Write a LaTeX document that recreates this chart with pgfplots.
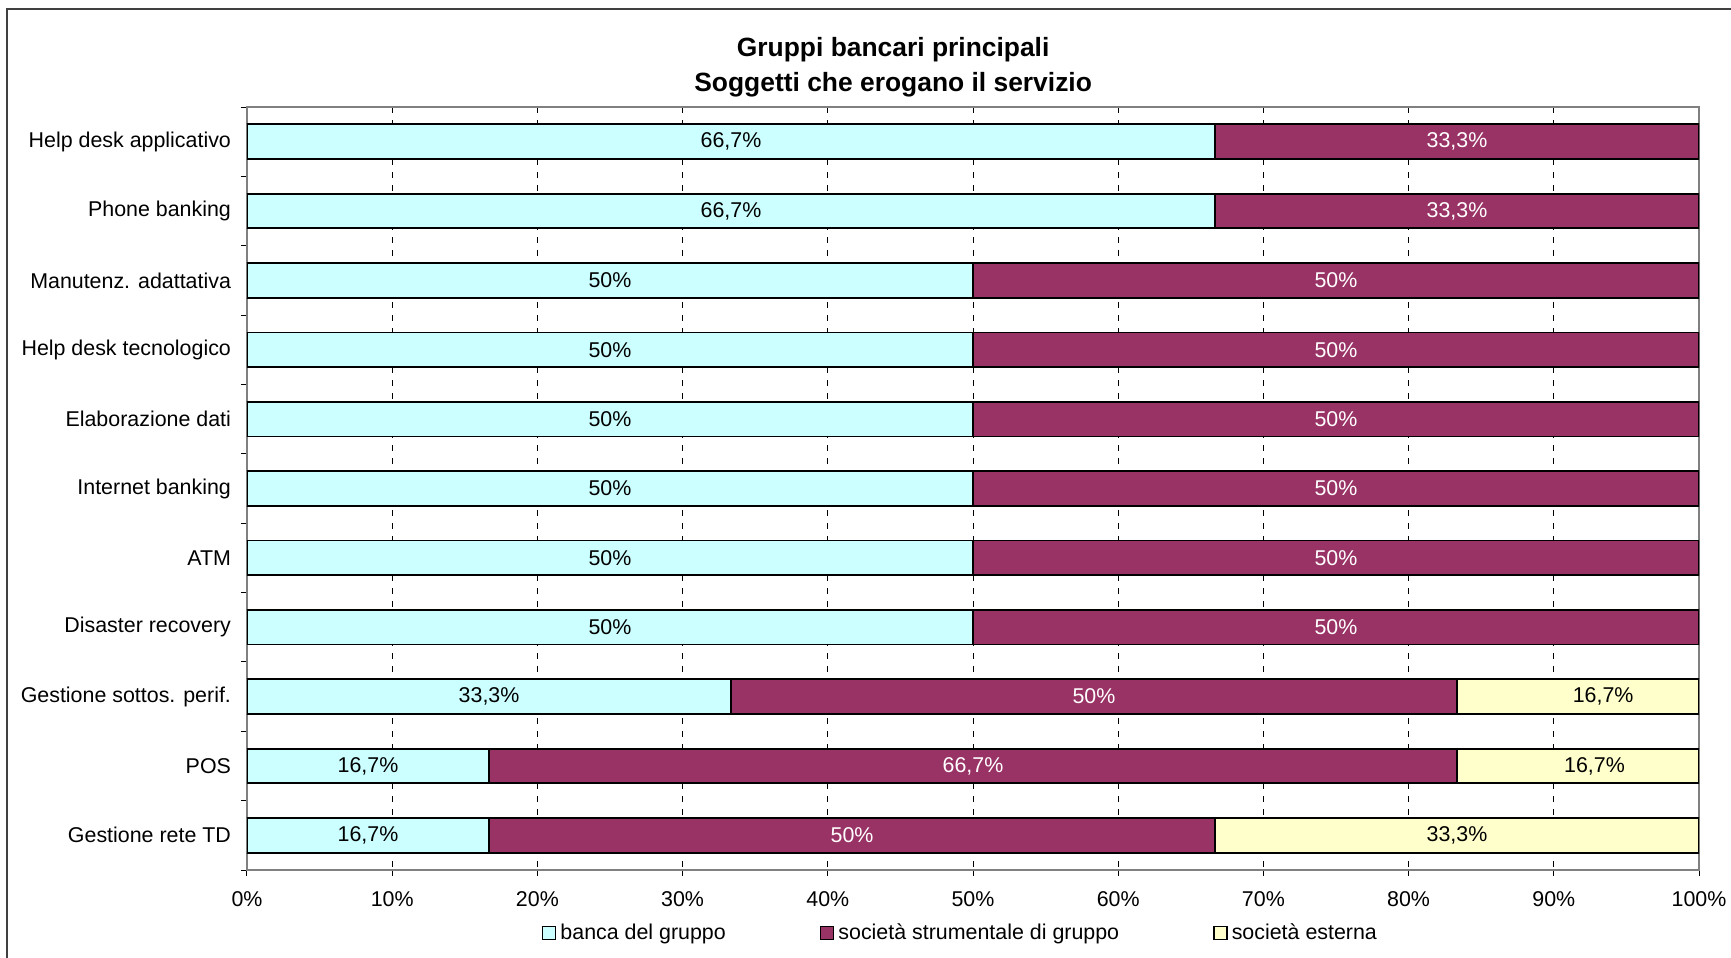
\documentclass[border=0pt]{standalone}
\usepackage{pgfplots}
\usepackage{pgfplotstable}
\usepackage{fontspec}
\setmainfont{Liberation Sans}
\pgfplotsset{compat=1.18}

\definecolor{banca}{RGB}{204,255,255}
\definecolor{strum}{RGB}{153,51,102}
\definecolor{esterna}{RGB}{255,255,204}
\definecolor{axgray}{RGB}{128,128,128}

% quote percentuali per servizio (riga 0 = in alto)
\pgfplotstableread{
y banca strum esterna
0 66.67 33.33 0
1 66.67 33.33 0
2 50 50 0
3 50 50 0
4 50 50 0
5 50 50 0
6 50 50 0
7 50 50 0
8 33.33 50 16.67
9 16.67 66.67 16.67
10 16.67 50 33.33
}\quote

% etichette: posizione nel segmento, testo
\pgfplotstableread{
x y lab
33.33 0 66,7
33.33 1 66,7
25 2 50
25 3 50
25 4 50
25 5 50
25 6 50
25 7 50
16.67 8 33,3
93.4 8 16,7
8.33 9 16,7
92.8 9 16,7
8.33 10 16,7
83.33 10 33,3
}\labnero

\pgfplotstableread{
x y lab
83.33 0 33,3
83.33 1 33,3
75 2 50
75 3 50
75 4 50
75 5 50
75 6 50
75 7 50
58.33 8 50
50 9 66,7
41.67 10 50
}\labbianco

\newcommand{\fnt}{\fontsize{10.7}{12.5}\selectfont}

\begin{document}
\begin{tikzpicture}
\useasboundingbox (0,0) rectangle (865.5pt,479pt);
\draw[line width=1pt, black!75] (3.5pt,-5pt) -- (3.5pt,474.5pt) -- (880pt,474.5pt);

\pgfplotsset{basic/.style={
  at={(123.5pt,44pt)}, anchor=south west,
  scale only axis, width=726pt, height=381.5pt,
  xmin=0, xmax=100, ymin=-0.5, ymax=10.5, y dir=reverse,
}}

\begin{axis}[basic,
  xbar stacked, bar width=0.5,
  axis line style={axgray, line width=0.9pt},
  tick align=outside, xtick pos=lower, ytick pos=lower,
  tick style={black, line width=0.5pt},
  major tick length=3pt,
  xtick={0,10,...,100},
  xticklabel={\pgfmathprintnumber[assume math mode=true]{\tick}\%},
  xticklabel style={yshift=-4pt},
  xmajorgrids, grid style={black, line width=0.5pt, dash pattern=on 3pt off 3.5pt},
  ytick={-0.5,0.5,...,10.5}, yticklabels={},
  extra y ticks={0,1,...,10},
  extra y tick labels={Help desk applicativo, Phone banking, Manutenz. adattativa,
    Help desk tecnologico, Elaborazione dati, Internet banking, ATM,
    Disaster recovery, Gestione sottos. perif., POS, Gestione rete TD},
  extra y tick style={major tick length=0pt, yticklabel style={xshift=-4.5pt}},
  ticklabel style={font=\fnt},
  title={Gruppi bancari principali\\Soggetti che erogano il servizio},
  title style={at={(0.445,1)}, anchor=center, yshift=14pt, align=center,
    font=\bfseries\fontsize{13.2}{17.5}\selectfont},
  legend columns=-1,
  legend style={draw=none, at={(0.492,0)}, anchor=center, yshift=-31.5pt,
    font=\fnt, inner sep=0pt,
    /tikz/every odd column/.append style={column sep=0pt},
    /tikz/every even column/.append style={column sep=45pt}},
  legend image code/.code={\draw[#1, line width=0.8pt] (0pt,-3.25pt) rectangle (6.5pt,3.25pt);},
]
\addplot[fill=banca, draw=black, line width=0.9pt] table[x=banca, y=y] {\quote};
\addlegendentry{banca del gruppo}
\addplot[fill=strum, draw=black, line width=0.9pt] table[x=strum, y=y] {\quote};
\addlegendentry{società strumentale di gruppo}
\addplot[fill=esterna, draw=black, line width=0.9pt] table[x=esterna, y=y] {\quote};
\addlegendentry{società esterna}
\end{axis}

\begin{axis}[basic, hide axis]
\addplot[draw=none, mark=none, point meta=explicit symbolic,
  nodes near coords={\pgfplotspointmeta\%}, nodes near coords align=center,
  nodes near coords style={black, font=\fnt}]
  table[x=x, y=y, meta=lab] {\labnero};
\addplot[draw=none, mark=none, point meta=explicit symbolic,
  nodes near coords={\pgfplotspointmeta\%}, nodes near coords align=center,
  nodes near coords style={white, font=\fnt}]
  table[x=x, y=y, meta=lab] {\labbianco};
\end{axis}
\end{tikzpicture}
\end{document}
